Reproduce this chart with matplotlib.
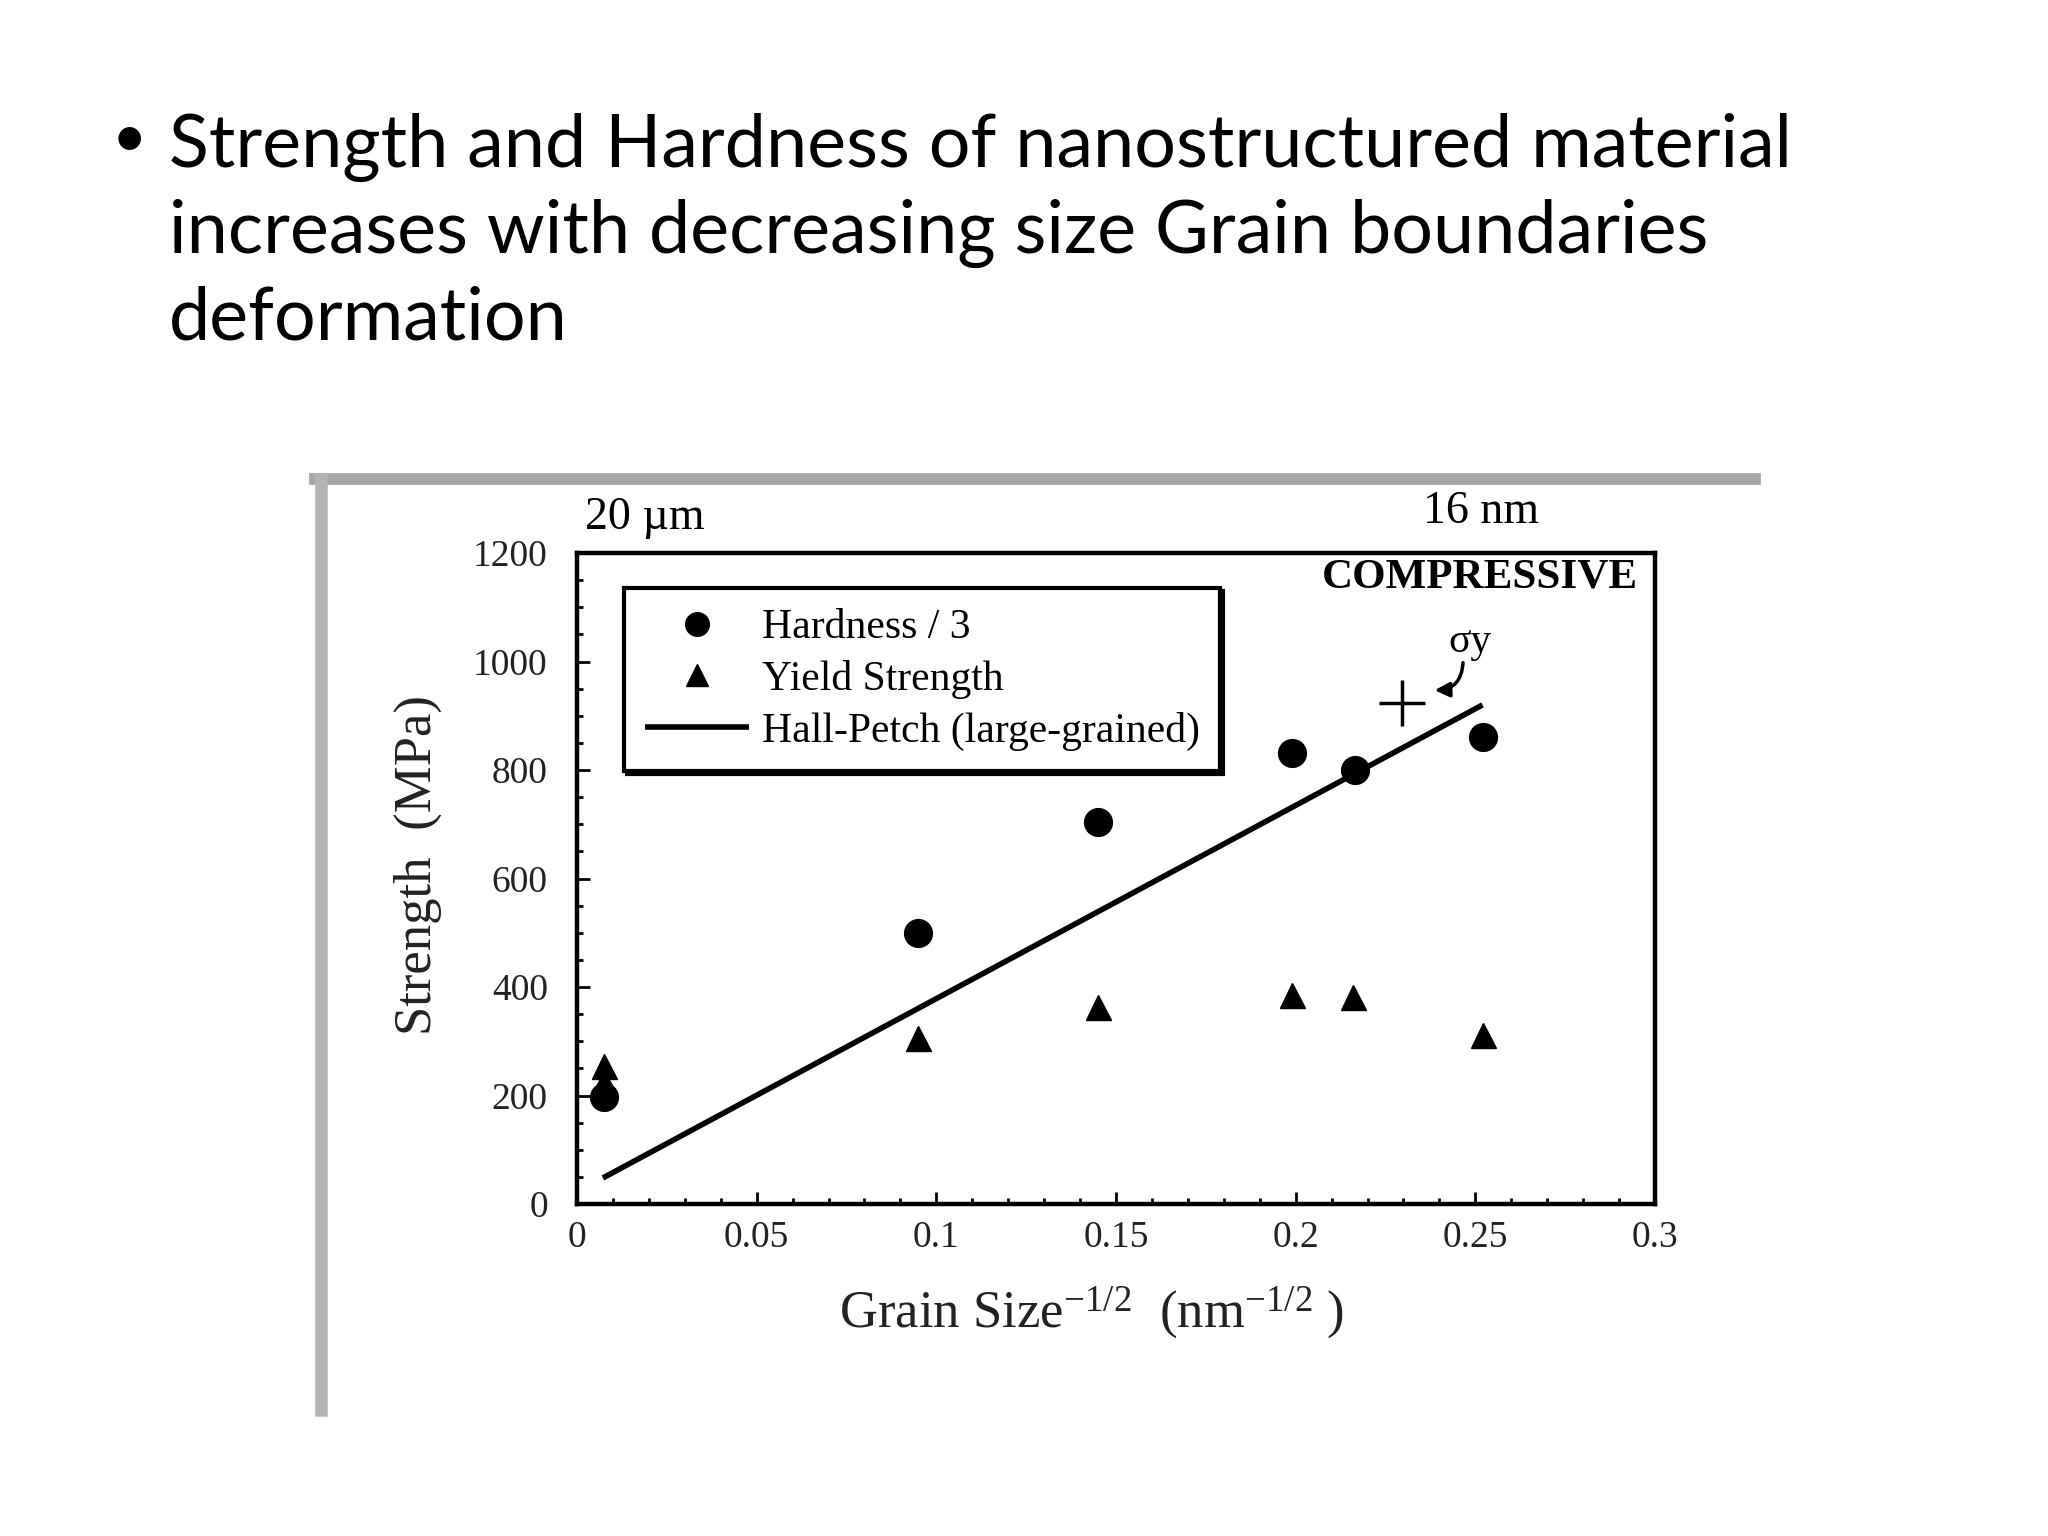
import matplotlib
matplotlib.use("Agg")
import matplotlib.pyplot as plt
from matplotlib.lines import Line2D
from matplotlib.ticker import MultipleLocator

plt.rcParams['font.family'] = ['Liberation Serif', 'DejaVu Serif']
plt.rcParams['mathtext.fontset'] = 'custom'
plt.rcParams['mathtext.rm'] = 'Liberation Serif'
plt.rcParams['mathtext.it'] = 'Liberation Serif:italic'

# data
hardness_x = [0.0075, 0.095, 0.145, 0.199, 0.2165, 0.252]
hardness_y = [197, 499, 704, 831, 800, 861]
yield_x = [0.0075, 0.0075, 0.095, 0.145, 0.199, 0.216, 0.252]
yield_y = [255, 225, 306, 363, 385, 382, 311]
hallpetch_x = [0.0072, 0.252]
hallpetch_y = [48, 920]
sigma_y_x = [0.2296]
sigma_y_y = [923]

bullet_lines = ["Strength and Hardness of nanostructured material",
                "increases with decreasing size Grain boundaries",
                "deformation"]

W, H = 2048, 1536
fig = plt.figure(figsize=(20.48, 15.36), dpi=100, facecolor='white')

# slide text
for i, line in enumerate(bullet_lines):
    fig.text(169 / W, 1 - (167 + 86 * i) / H, line, fontsize=53,
             family=['Lato', 'DejaVu Sans'], va='baseline', ha='left')
fig.text(129 / W, 1 - 140 / H, "\u2022", fontsize=44,
         family=['Lato', 'DejaVu Sans'], va='center', ha='center')

# scanned picture border
fig.add_artist(Line2D([315 / W, 1755 / W], [1 - 479 / H, 1 - 479 / H],
                      color='#a8a8a8', lw=8.5, transform=fig.transFigure))
fig.add_artist(Line2D([321 / W, 321 / W], [1 - 479 / H, 1 - 1410 / H],
                      color='#b4b4b4', lw=9, transform=fig.transFigure))

ax = fig.add_axes([577 / W, 1 - 1204 / H, (1655 - 577) / W, (1204 - 553) / H])

ax.plot(hallpetch_x, hallpetch_y, color='black', lw=4, solid_capstyle='butt',
        label='Hall-Petch (large-grained)', zorder=2)
ax.plot(hardness_x, hardness_y, 'o', color='black', ms=20,
        label='Hardness / 3', zorder=3)
ax.plot(yield_x, yield_y, '^', color='black', ms=18,
        label='Yield Strength', zorder=3)
ax.plot(sigma_y_x, sigma_y_y, '+', color='black', ms=33, mew=2.5, zorder=3)

ax.text(0.2425, 1017, "\u03c3y", fontsize=30, ha='left', va='baseline')
ax.annotate('', xy=(0.2379, 947), xytext=(0.2466, 1003),
            arrowprops=dict(arrowstyle='-|>', color='black', lw=2.5,
                            mutation_scale=22,
                            connectionstyle='arc3,rad=-0.5'))

ax.text(0.984, 0.962, "COMPRESSIVE", transform=ax.transAxes, fontsize=31,
        fontweight='bold', ha='right', va='center')
ax.text(0.0074, 1.054, "20 \u00b5m", transform=ax.transAxes, fontsize=33,
        ha='left', va='center')
ax.text(0.785, 1.063, "16 nm", transform=ax.transAxes, fontsize=33,
        ha='left', va='center')

ax.set_xlim(0, 0.3)
ax.set_ylim(0, 1200)
ax.xaxis.set_major_locator(MultipleLocator(0.05))
ax.xaxis.set_minor_locator(MultipleLocator(0.01))
ax.yaxis.set_major_locator(MultipleLocator(200))
ax.yaxis.set_minor_locator(MultipleLocator(50))
ax.set_xticks([0, 0.05, 0.1, 0.15, 0.2, 0.25, 0.3])
ax.set_xticklabels(['0', '0.05', '0.1', '0.15', '0.2', '0.25', '0.3'])
ax.tick_params(which='both', direction='in', top=False, right=False,
               width=2, labelsize=27, labelcolor='#222222')
ax.tick_params(axis='y', which='major', length=9, pad=21)
ax.tick_params(axis='x', which='major', length=9, pad=12)
ax.tick_params(which='minor', length=4)
for s in ax.spines.values():
    s.set_linewidth(3.2)

fig.text(418 / W, 1 - 865 / H, "Strength  (MPa)", rotation=90, fontsize=38,
         ha='center', va='center', color='#222222')
fig.text(1092 / W, 1 - 1313 / H, r"Grain Size$^{-1/2}$  (nm$^{-1/2}$ )",
         fontsize=38, ha='center', va='center', color='#222222')

handles, labels = ax.get_legend_handles_labels()
order = [1, 2, 0]
leg = ax.legend([handles[i] for i in order], [labels[i] for i in order],
                loc='upper left', bbox_to_anchor=(0.0436, 0.946),
                fontsize=30, handlelength=2.5, handletextpad=0.3,
                labelspacing=0.3, borderpad=0.5, borderaxespad=0,
                fancybox=False, markerscale=0.85, framealpha=1,
                shadow={'color': 'black', 'alpha': 1, 'ox': 2, 'oy': -2})
leg.get_frame().set_edgecolor('black')
leg.get_frame().set_linewidth(3)

fig.savefig('out.png', dpi=100, facecolor='white')
